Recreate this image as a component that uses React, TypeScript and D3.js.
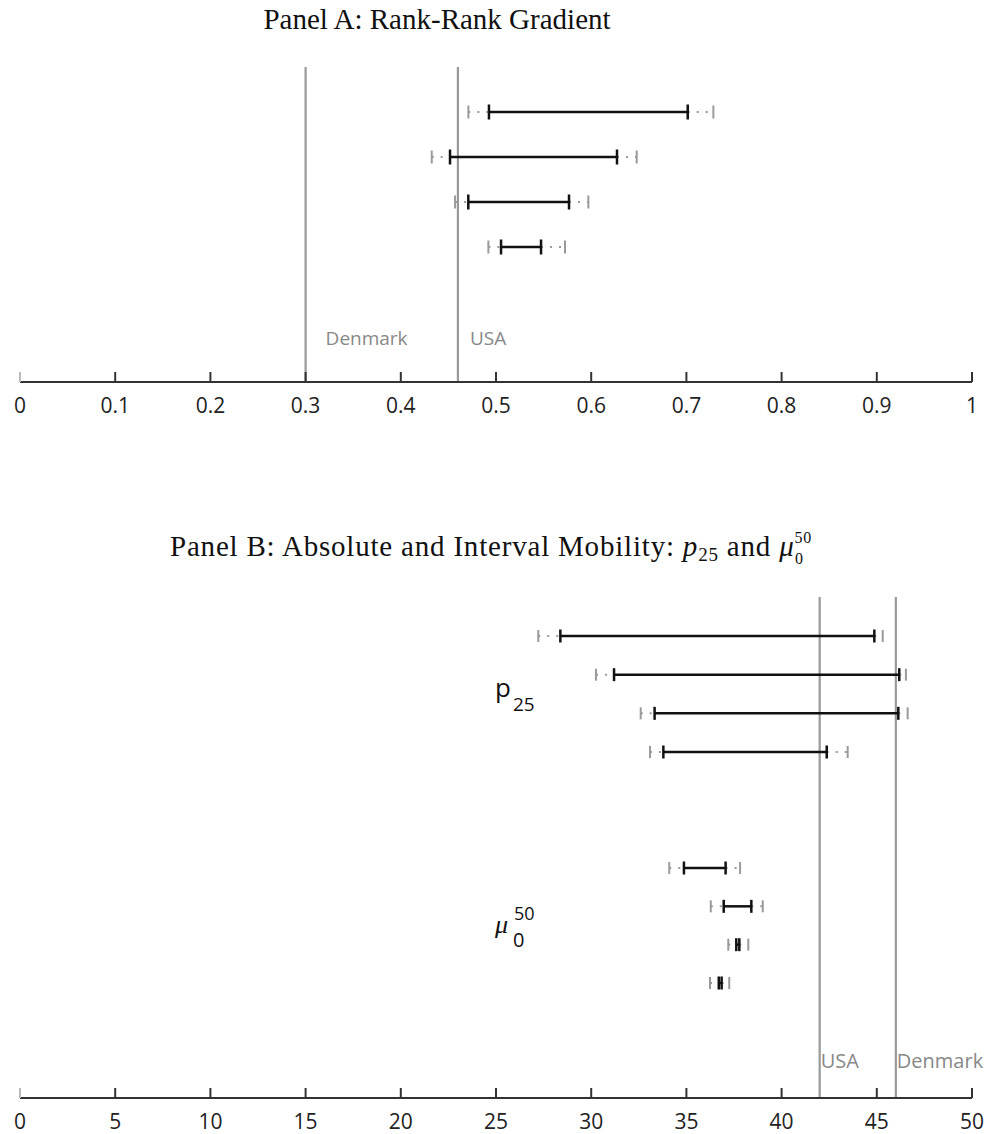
import React from "react";
import * as d3 from "d3";

// Panel A: rank-rank gradient, 4 estimates (outer CI low, inner CI low, inner CI high, outer CI high)
const rankOuterLo = [0.471, 0.4325, 0.457, 0.492];
const rankInnerLo = [0.4926, 0.4517, 0.4709, 0.5053];
const rankInnerHi = [0.7014, 0.6271, 0.5767, 0.5473];
const rankOuterHi = [0.7283, 0.6478, 0.597, 0.5725];
const rankRefNames = ["Denmark", "USA"];
const rankRefValues = [0.3, 0.46];
const rankTicks = [0, 0.1, 0.2, 0.3, 0.4, 0.5, 0.6, 0.7, 0.8, 0.9, 1];

// Panel B: p25 (4 rows) and mu0^50 (4 rows)
const p25OuterLo = [27.22, 30.25, 32.6, 33.09];
const p25InnerLo = [28.38, 31.2, 33.33, 33.79];
const p25InnerHi = [44.87, 46.18, 46.13, 42.37];
const p25OuterHi = [45.31, 46.53, 46.62, 43.47];
const muOuterLo = [34.1, 36.28, 37.2, 36.24];
const muInnerLo = [34.87, 36.96, 37.62, 36.7];
const muInnerHi = [37.06, 38.41, 37.78, 36.85];
const muOuterHi = [37.82, 39.01, 38.25, 37.25];
const absRefNames = ["USA", "Denmark"];
const absRefValues = [42, 46];
const absTicks = [0, 5, 10, 15, 20, 25, 30, 35, 40, 45, 50];

const SANS = "'Open Sans', 'DejaVu Sans', sans-serif";
const SERIF = "'Liberation Serif', 'DejaVu Serif', serif";

type Row = { lo2: number; lo1: number; hi1: number; hi2: number; y: number };

function Whisker({ r, x, blackCap, grayCap }: { r: Row; x: d3.ScaleLinear<number, number>; blackCap: number; grayCap: number }) {
  const g = "#9a9a9a";
  return (
    <g>
      <line x1={x(r.lo2)} x2={x(r.lo1)} y1={r.y} y2={r.y} stroke={g} strokeWidth={2} strokeDasharray="2 7" />
      <line x1={x(r.hi1)} x2={x(r.hi2)} y1={r.y} y2={r.y} stroke={g} strokeWidth={2} strokeDasharray="2 7" />
      <line x1={x(r.lo2)} x2={x(r.lo2)} y1={r.y - grayCap / 2} y2={r.y + grayCap / 2} stroke={g} strokeWidth={2} />
      <line x1={x(r.hi2)} x2={x(r.hi2)} y1={r.y - grayCap / 2} y2={r.y + grayCap / 2} stroke={g} strokeWidth={2} />
      <line x1={x(r.lo1)} x2={x(r.hi1)} y1={r.y} y2={r.y} stroke="#111" strokeWidth={2.5} />
      <line x1={x(r.lo1)} x2={x(r.lo1)} y1={r.y - blackCap / 2} y2={r.y + blackCap / 2} stroke="#111" strokeWidth={2.5} />
      <line x1={x(r.hi1)} x2={x(r.hi1)} y1={r.y - blackCap / 2} y2={r.y + blackCap / 2} stroke="#111" strokeWidth={2.5} />
    </g>
  );
}

function Axis({ x, y, ticks, fmt }: { x: d3.ScaleLinear<number, number>; y: number; ticks: number[]; fmt: (v: number) => string }) {
  const [r0, r1] = x.range();
  return (
    <g>
      <line x1={r0} x2={r1} y1={y} y2={y} stroke="#333" strokeWidth={2} />
      {ticks.map((t, i) => (
        <g key={i}>
          <line x1={x(t)} x2={x(t)} y1={y - 10} y2={y} stroke={i === 0 ? "#bbb" : "#333"} strokeWidth={2} />
          <text x={x(t)} y={y + 31} textAnchor="middle" fontFamily={SANS} fontSize={21} fill="#222">
            {fmt(t)}
          </text>
        </g>
      ))}
    </g>
  );
}

export default function App() {
  const xA = d3.scaleLinear().domain([0, 1]).range([20, 972]);
  const xB = d3.scaleLinear().domain([0, 50]).range([20, 972]);

  const rowYA = d3.scalePoint<number>().domain([0, 1, 2, 3]).range([112, 247]);
  const rowsA: Row[] = rankOuterLo.map((_, i) => ({
    lo2: rankOuterLo[i], lo1: rankInnerLo[i], hi1: rankInnerHi[i], hi2: rankOuterHi[i], y: rowYA(i)!,
  }));
  const rowYP = d3.scalePoint<number>().domain([0, 1, 2, 3]).range([636, 752]);
  const rowsP: Row[] = p25OuterLo.map((_, i) => ({
    lo2: p25OuterLo[i], lo1: p25InnerLo[i], hi1: p25InnerHi[i], hi2: p25OuterHi[i], y: rowYP(i)!,
  }));
  const rowYM = d3.scalePoint<number>().domain([0, 1, 2, 3]).range([868, 983]);
  const rowsM: Row[] = muOuterLo.map((_, i) => ({
    lo2: muOuterLo[i], lo1: muInnerLo[i], hi1: muInnerHi[i], hi2: muOuterHi[i], y: rowYM(i)!,
  }));

  const axisA = 382;
  const axisB = 1098;
  const fmtA = (v: number) => (v === 0 ? "0" : v === 1 ? "1" : d3.format(".1f")(v));
  const fmtB = (v: number) => String(v);

  // Panel B title: main part + math pieces laid out left to right
  const titleB = "Panel B: Absolute and Interval Mobility: ";
  const titleBY = 556;
  const titleBLeft = 170;

  return (
    <svg width={989} height={1134} style={{ position: "absolute", left: 0, top: 0, background: "#fff" }}>
      <rect width={989} height={1134} fill="#fff" />
      {/* Panel A */}
      <text x={437} y={29} textAnchor="middle" fontFamily={SERIF} fontSize={29} fill="#111">
        Panel A: Rank-Rank Gradient
      </text>
      {rankRefValues.map((v, i) => (
        <g key={i}>
          <line x1={xA(v)} x2={xA(v)} y1={67} y2={axisA} stroke="#999" strokeWidth={2.2} />
          <text x={xA(v) + (i === 0 ? 20 : 12)} y={345} fontFamily={SANS} fontSize={19} fill="#888">
            {rankRefNames[i]}
          </text>
        </g>
      ))}
      {rowsA.map((r, i) => (
        <Whisker key={i} r={r} x={xA} blackCap={15} grayCap={13} />
      ))}
      <Axis x={xA} y={axisA} ticks={rankTicks} fmt={fmtA} />

      {/* Panel B */}
      <text x={titleBLeft} y={titleBY} fontFamily={SERIF} fontSize={29} fill="#111" letterSpacing={0.8}>
        {titleB}
        <tspan fontStyle="italic">p</tspan>
        <tspan fontSize={19} dy={5}>25</tspan>
        <tspan dy={-5}> and </tspan>
        <tspan fontStyle="italic">μ</tspan>
        <tspan fontSize={16} dy={-13}>50</tspan>
      </text>
      <text x={795} y={titleBY + 8} fontFamily={SERIF} fontSize={16} fill="#111">
        0
      </text>
      {absRefValues.map((v, i) => (
        <g key={i}>
          <line x1={xB(v)} x2={xB(v)} y1={597} y2={axisB} stroke="#999" strokeWidth={2.2} />
          <text x={xB(v) + 1} y={1068} fontFamily={SANS} fontSize={20} fill="#888">
            {absRefNames[i]}
          </text>
        </g>
      ))}
      {rowsP.map((r, i) => (
        <Whisker key={i} r={r} x={xB} blackCap={13} grayCap={12} />
      ))}
      {rowsM.map((r, i) => (
        <Whisker key={i} r={r} x={xB} blackCap={13} grayCap={12} />
      ))}
      <text x={495} y={697} fontFamily={SANS} fontSize={26} fill="#111">
        p
        <tspan fontSize={19} dx={2} dy={14}>25</tspan>
      </text>
      <text x={495} y={933} fontFamily={SERIF} fontStyle="italic" fontSize={26} fill="#111">
        μ
      </text>
      <text x={514} y={920} fontFamily={SANS} fontSize={18} fill="#111">50</text>
      <text x={513} y={947} fontFamily={SANS} fontSize={20} fill="#111">0</text>
      <Axis x={xB} y={axisB} ticks={absTicks} fmt={fmtB} />
    </svg>
  );
}
